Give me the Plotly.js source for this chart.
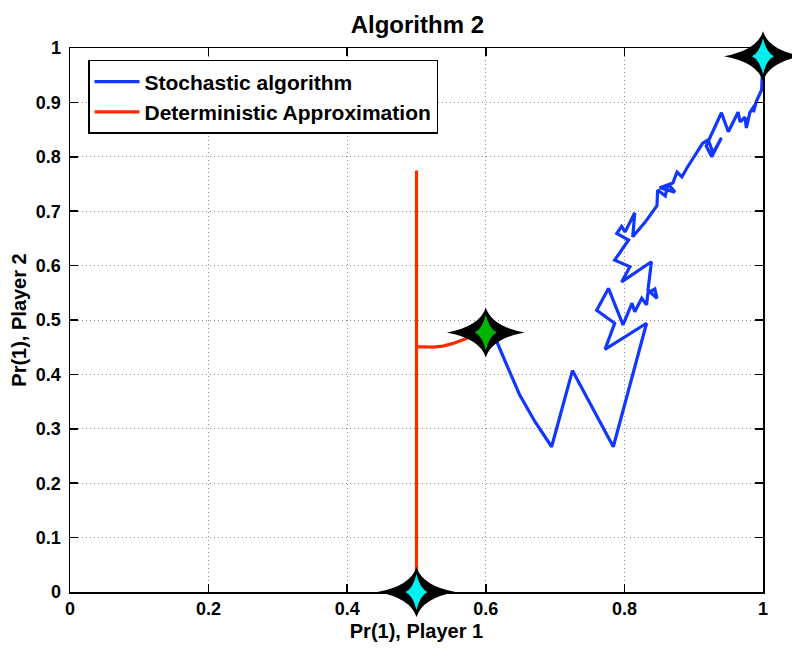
<!DOCTYPE html>
<html>
<head>
<meta charset="utf-8">
<script src="https://cdn.plot.ly/plotly-3.0.1.min.js"></script>
<style>html,body{margin:0;padding:0;background:#fff;}#chart{width:792px;height:656px;}</style>
</head>
<body>
<div id="chart"></div>
<script>
// Stochastic algorithm path (Player 1, Player 2)
const stochX = [0.600,0.616,0.632,0.649,0.671,0.695,0.725,0.784,0.832,0.772,0.786,0.760,0.777,0.798,0.811,0.815,0.825,0.832,0.834,0.844,0.847,0.834,0.839,0.796,0.808,0.786,0.806,0.789,0.796,0.801,0.815,0.812,0.830,0.847,0.848,0.859,0.863,0.873,0.851,0.870,0.876,0.883,0.890,0.913,0.921,0.928,0.940,0.926,0.918,0.940,0.950,0.964,0.967,0.974,0.976,0.981,0.988,0.986,0.991,0.998,0.999,1.000];
const stochY = [0.477,0.460,0.412,0.362,0.313,0.267,0.407,0.267,0.494,0.446,0.494,0.518,0.558,0.491,0.531,0.515,0.540,0.528,0.550,0.557,0.540,0.555,0.607,0.570,0.598,0.610,0.647,0.659,0.672,0.662,0.697,0.653,0.680,0.710,0.739,0.728,0.750,0.735,0.743,0.752,0.772,0.763,0.779,0.825,0.831,0.807,0.835,0.800,0.820,0.881,0.846,0.882,0.864,0.873,0.853,0.881,0.895,0.882,0.904,0.923,0.954,0.985];
// Deterministic approximation
const detX = [0.600,0.587,0.572,0.553,0.538,0.524,0.506,0.500,0.500,0.500];
const detY = [0.477,0.472,0.466,0.457,0.452,0.450,0.450,0.451,0.775,0.000];
// Star markers
const startX = [0.6];    const startY = [0.477];
const endX = [0.5, 1.0]; const endY = [0.0, 0.985];

const xTicks = [0,0.2,0.4,0.6,0.8,1];
const xTickText = ['0','0.2','0.4','0.6','0.8','1'];
const yTicks = [0,0.1,0.2,0.3,0.4,0.5,0.6,0.7,0.8,0.9,1];
const yTickText = ['0','0.1','0.2','0.3','0.4','0.5','0.6','0.7','0.8','0.9','1'];

const xRange = [0, 1];
const yRange = [0, 1];

const FONT = '"Liberation Sans", Arial, Helvetica, sans-serif';

// star outlines in pixel offsets (style only)
const OUTER = 'M-39,0 Q-6,6 0,25 Q6,6 39,0 Q6,-6 0,-25 Q-6,-6 -39,0 Z';
const INNER = 'M-11,0 Q-3.5,3.5 0,18 Q3.5,3.5 11,0 Q3.5,-3.5 0,-18 Q-3.5,-3.5 -11,0 Z';

function starShapes(xs, ys, fill) {
  const out = [];
  xs.forEach((xv, i) => {
    // map data value to paper fraction through the axis range (so the star is not clipped)
    const px = (xv - xRange[0]) / (xRange[1] - xRange[0]);
    const py = (ys[i] - yRange[0]) / (yRange[1] - yRange[0]);
    const common = {type: 'path', xref: 'paper', yref: 'paper', xsizemode: 'pixel', ysizemode: 'pixel',
                    xanchor: px, yanchor: py, layer: 'above'};
    out.push(Object.assign({}, common, {path: OUTER, fillcolor: '#000', line: {width: 0}}));
    out.push(Object.assign({}, common, {path: INNER, fillcolor: fill, line: {width: 0}}));
  });
  return out;
}

const data = [
  {x: stochX, y: stochY, mode: 'lines', type: 'scatter', name: 'Stochastic algorithm',
   line: {color: '#1237ff', width: 3.2}},
  {x: detX, y: detY, mode: 'lines', type: 'scatter', name: 'Deterministic Approximation',
   line: {color: '#ff2a00', width: 3.2}}
];

const axisCommon = {
  showline: true, mirror: 'allticks', linecolor: '#000', linewidth: 1.5,
  ticks: 'inside', ticklen: 8, tickwidth: 1.5, tickcolor: '#000',
  showgrid: true, gridcolor: '#909090', griddash: '1px,3px', gridwidth: 1,
  zeroline: false, tickfont: {family: FONT, size: 18, color: '#000', weight: 'bold'}
};

const layout = {
  width: 792, height: 656,
  margin: {l: 70, r: 29, t: 48, b: 64},
  paper_bgcolor: '#fff', plot_bgcolor: '#fff',
  title: {text: '<b>Algorithm 2</b>', font: {family: FONT, size: 24, color: '#000'}, x: 0.527, xanchor: 'center', y: 0.962, yanchor: 'middle'},
  xaxis: Object.assign({}, axisCommon, {range: xRange, tickvals: xTicks, ticktext: xTickText,
    title: {text: '<b>Pr(1), Player 1</b>', font: {family: FONT, size: 20, color: '#000'}, standoff: 6}}),
  yaxis: Object.assign({}, axisCommon, {range: yRange, tickvals: yTicks, ticktext: yTickText, ticklabelstandoff: 4,
    title: {text: '<b>Pr(1), Player 2</b>', font: {family: FONT, size: 20, color: '#000'}, standoff: 4}}),
  legend: {x: 0.026, y: 0.978, xanchor: 'left', yanchor: 'top', bgcolor: '#fff',
    bordercolor: '#000', borderwidth: 1.5, font: {family: FONT, size: 21, color: '#000', weight: 'bold'},
    tracegroupgap: 0, itemwidth: 45},
  showlegend: true,
  shapes: [...starShapes(startX, startY, '#00b400'), ...starShapes(endX, endY, '#00f0f0')]
};

Plotly.newPlot('chart', data, layout, {displayModeBar: false, staticPlot: true});
</script>
</body>
</html>
